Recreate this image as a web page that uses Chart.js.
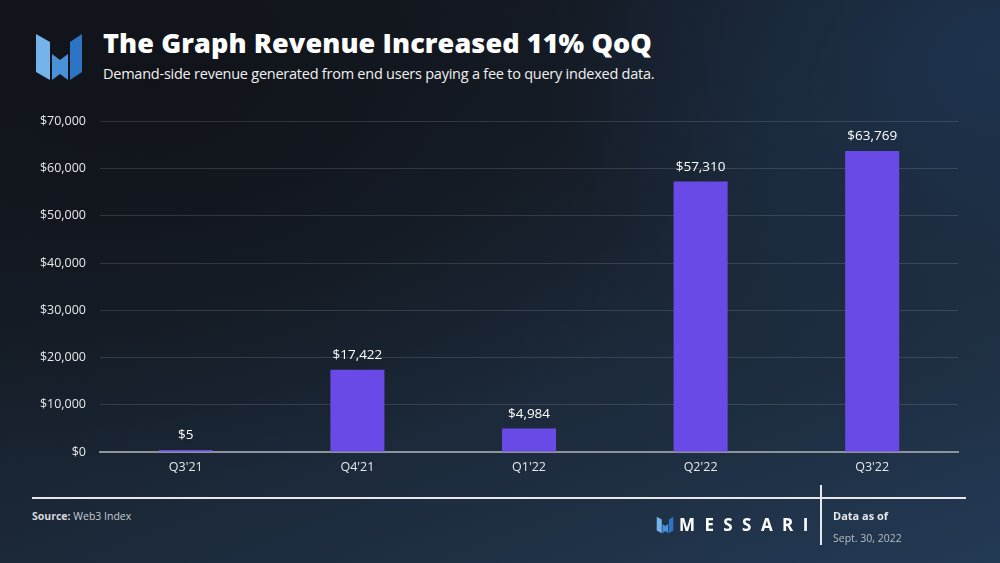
<!DOCTYPE html>
<html>
<head>
<meta charset="utf-8">
<script src="https://cdn.jsdelivr.net/npm/chart.js@4"></script>
<style>
  html, body { margin:0; padding:0; }
  body {
    width:1000px; height:563px; overflow:hidden; position:relative;
    font-family: "Open Sans", "Noto Sans", sans-serif;
    background:
      radial-gradient(ellipse 60% 70% at 15% 15%, rgba(16,19,25,0.9) 0%, rgba(16,19,25,0) 100%),
      linear-gradient(160deg, #14181f 0%, #171f2a 35%, #1d2c3e 70%, #233a55 100%);
    background-color:#171e28;
  }
  #bgR { position:absolute; left:0; top:0; width:1000px; height:563px;
    background: radial-gradient(ellipse 45% 60% at 100% 10%, rgba(30,52,80,0.9) 0%, rgba(30,52,80,0) 100%); }
  #logo { position:absolute; left:34px; top:32px; }
  #title { position:absolute; left:103px; top:24px; color:#fff; font-weight:800; font-size:27px; letter-spacing:0.1px; white-space:nowrap; }
  #subtitle { position:absolute; left:103px; top:64px; color:#f0f0f0; font-size:14.5px; white-space:nowrap; letter-spacing:-0.24px; }
  #wrap { position:absolute; left:0; top:100px; width:1000px; height:390px; }
  #hline { position:absolute; left:32px; top:497px; width:934px; height:2px; background:#e8e8ea; }
  #vline { position:absolute; left:820px; top:485px; width:1.5px; height:60px; background:#e8e8ea; }
  #source { position:absolute; left:32px; top:509px; color:#c9ccd1; font-size:10.5px; white-space:nowrap; }
  #source b { color:#d6d8dc; }
  #messari { position:absolute; left:655px; top:516px; }
  #messariTxt { position:absolute; left:679px; top:513px; color:#fff; font-weight:700; font-size:17px; letter-spacing:9.4px; white-space:nowrap; font-family:"Open Sans", sans-serif; }
  #dataof { position:absolute; left:833px; top:508px; color:#e6e8ea; font-weight:700; font-size:11px; white-space:nowrap; }
  #date { position:absolute; left:833px; top:531px; color:#b9bdc3; font-size:10.5px; white-space:nowrap; }
</style>
</head>
<body>
<div id="bgR"></div>
<svg id="logo" width="50" height="50" viewBox="0 0 50 50">
  <polygon points="2,2 16,10 16,48 2,40" fill="#74b4ea"/>
  <polygon points="18,22 26,28 34,22 34,48 26,42 18,48" fill="#4a92d8"/>
  <polygon points="36,10 48,2 48,40 36,48" fill="#2d74c4"/>
</svg>
<div id="title">The Graph Revenue Increased 11% QoQ</div>
<div id="subtitle">Demand-side revenue generated from end users paying a fee to query indexed data.</div>
<div id="wrap"><canvas id="c" width="1000" height="390"></canvas></div>
<div id="hline"></div>
<div id="vline"></div>
<div id="source"><b>Source:</b> Web3 Index</div>
<svg id="messari" width="20" height="18" viewBox="0 0 50 50">
  <polygon points="2,2 16,10 16,48 2,40" fill="#74b4ea"/>
  <polygon points="18,22 26,28 34,22 34,48 26,42 18,48" fill="#4a92d8"/>
  <polygon points="36,10 48,2 48,40 36,48" fill="#2d74c4"/>
</svg>
<div id="messariTxt">MESSARI</div>
<div id="dataof">Data as of</div>
<div id="date">Sept. 30, 2022</div>
<script>
const categories = ["Q3'21", "Q4'21", "Q1'22", "Q2'22", "Q3'22"];
const revenue = [5, 17422, 4984, 57310, 63769];
const yTicks = [0, 10000, 20000, 30000, 40000, 50000, 60000, 70000];

const fmt = v => '$' + v.toLocaleString('en-US');

const valueLabels = {
  id: 'valueLabels',
  afterDatasetsDraw(chart) {
    const ctx = chart.ctx;
    const meta = chart.getDatasetMeta(0);
    ctx.save();
    ctx.fillStyle = '#ffffff';
    ctx.font = '500 13.5px "Open Sans", sans-serif';
    ctx.textAlign = 'center';
    ctx.textBaseline = 'bottom';
    meta.data.forEach((bar, i) => {
      ctx.fillText(fmt(revenue[i]), bar.x, bar.y - 8);
    });
    ctx.restore();
  }
};

new Chart(document.getElementById('c'), {
  type: 'bar',
  data: {
    labels: categories,
    datasets: [{
      data: revenue,
      backgroundColor: '#6a4ae6',
      borderWidth: 0,
      minBarLength: 2,
      barPercentage: 1,
      categoryPercentage: 0.315
    }]
  },
  options: {
    responsive: false,
    animation: false,
    devicePixelRatio: 1,
    layout: { padding: { top: 19, right: 42, left: 0, bottom: 0 } },
    plugins: { legend: { display: false }, tooltip: { enabled: false } },
    scales: {
      x: {
        grid: { display: false, drawTicks: false },
        border: { display: true, color: '#8e949b', width: 2 },
        ticks: { color: '#e6e8ea', font: { family: '"Open Sans", sans-serif', size: 12.5, weight: '500' }, padding: 8 },
        afterFit(s) { s.height = 38; }
      },
      y: {
        min: 0, max: 70000,
        afterBuildTicks(s) { s.ticks = yTicks.map(v => ({ value: v })); },
        grid: { color: 'rgba(255,255,255,0.13)', lineWidth: 1, drawTicks: false },
        border: { display: false },
        ticks: {
          color: '#e6e8ea',
          font: { family: '"Open Sans", sans-serif', size: 12.5, weight: '500' },
          padding: 14,
          callback: v => fmt(v)
        },
        afterFit(s) { s.width = 100; }
      }
    }
  },
  plugins: [valueLabels]
});
</script>
</body>
</html>
